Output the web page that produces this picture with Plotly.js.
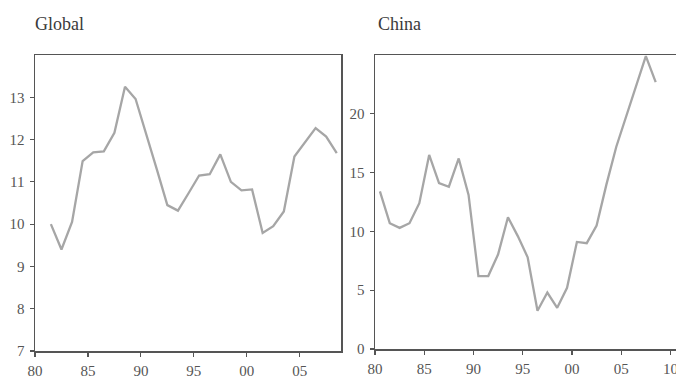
<!DOCTYPE html>
<html>
<head>
<meta charset="utf-8">
<script src="https://cdn.plot.ly/plotly-3.0.1.min.js"></script>
<style>
html,body{margin:0;padding:0;overflow:hidden;background:#fff;}
#chart{width:690px;height:377px;}
</style>
</head>
<body>
<div id="chart"></div>
<script>
// Global series: annual 1981-2008 (plotted mid-year)
var globalYears = [1981,1982,1983,1984,1985,1986,1987,1988,1989,1990,1991,1992,1993,1994,1995,1996,1997,1998,1999,2000,2001,2002,2003,2004,2005,2006,2007,2008];
var globalValues = [10.0,9.4,10.05,11.49,11.7,11.72,12.16,13.25,12.96,12.1,11.3,10.45,10.32,10.73,11.15,11.18,11.65,11.0,10.8,10.82,9.79,9.95,10.3,11.6,11.95,12.27,12.07,11.68];

// China series: annual 1980-2008 (plotted mid-year)
var chinaYears = [1980,1981,1982,1983,1984,1985,1986,1987,1988,1989,1990,1991,1992,1993,1994,1995,1996,1997,1998,1999,2000,2001,2002,2003,2004,2005,2006,2007,2008];
var chinaValues = [13.4,10.7,10.3,10.7,12.4,16.5,14.1,13.8,16.2,13.1,6.2,6.2,8.05,11.2,9.6,7.8,3.25,4.8,3.5,5.2,9.1,9.0,10.5,14.0,17.2,19.8,22.3,24.9,22.7];

var leftTickVals = [1980,1985,1990,1995,2000,2005];
var leftTickText = ['80','85','90','95','00','05'];
var rightTickVals = [1980,1985,1990,1995,2000,2005,2010];
var rightTickText = ['80','85','90','95','00','05','10'];

var W = 690, H = 377;
function mid(arr){ return arr.map(function(y){ return y + 0.5; }); }

var lineStyle = {color:'#a6a6a6', width:2.3};
var traces = [
  {x: mid(globalYears), y: globalValues, type:'scatter', mode:'lines', line:lineStyle, xaxis:'x', yaxis:'y', hoverinfo:'skip'},
  {x: mid(chinaYears), y: chinaValues, type:'scatter', mode:'lines', line:lineStyle, xaxis:'x2', yaxis:'y2', hoverinfo:'skip'}
];

var tickFont = {family:'Liberation Serif, Times New Roman, serif', size:15, color:'#555'};
var axisCommon = {
  showgrid:false, zeroline:false, showline:true, linecolor:'#555', linewidth:1.5,
  ticks:'outside', ticklen:4, tickwidth:1.2, tickcolor:'#555', tickfont:tickFont, fixedrange:true
};

var layout = {
  width: W, height: H,
  margin: {l:0, r:0, t:0, b:0},
  paper_bgcolor:'#fff', plot_bgcolor:'#fff',
  showlegend:false,
  xaxis: Object.assign({}, axisCommon, {domain:[35/W, 341/W], range:[1980, 2008.9], tickvals:leftTickVals, ticktext:leftTickText, mirror:true, anchor:'y', ticklabelstandoff:1}),
  yaxis: Object.assign({}, axisCommon, {domain:[(H-351)/H, (H-55)/H], range:[7, 14], tickvals:[7,8,9,10,11,12,13], mirror:true, anchor:'x', ticklabelstandoff:2}),
  xaxis2: Object.assign({}, axisCommon, {domain:[375/W, 681/W], range:[1980, 2011.07], tickvals:rightTickVals, ticktext:rightTickText, mirror:true, anchor:'y2', ticklabelstandoff:1}),
  yaxis2: Object.assign({}, axisCommon, {domain:[(H-349)/H, (H-55)/H], range:[0, 25], tickvals:[0,5,10,15,20], mirror:true, anchor:'x2', ticklabelstandoff:2}),
  annotations: [
    {text:'Global', xref:'paper', yref:'paper', x:33/W, y:1-24/H, xanchor:'left', yanchor:'middle', showarrow:false, font:{family:'Liberation Serif, Times New Roman, serif', size:18, color:'#3a3a3a'}},
    {text:'China', xref:'paper', yref:'paper', x:376/W, y:1-24/H, xanchor:'left', yanchor:'middle', showarrow:false, font:{family:'Liberation Serif, Times New Roman, serif', size:18, color:'#3a3a3a'}}
  ]
};

Plotly.newPlot('chart', traces, layout, {displayModeBar:false, staticPlot:true});
</script>
</body>
</html>
